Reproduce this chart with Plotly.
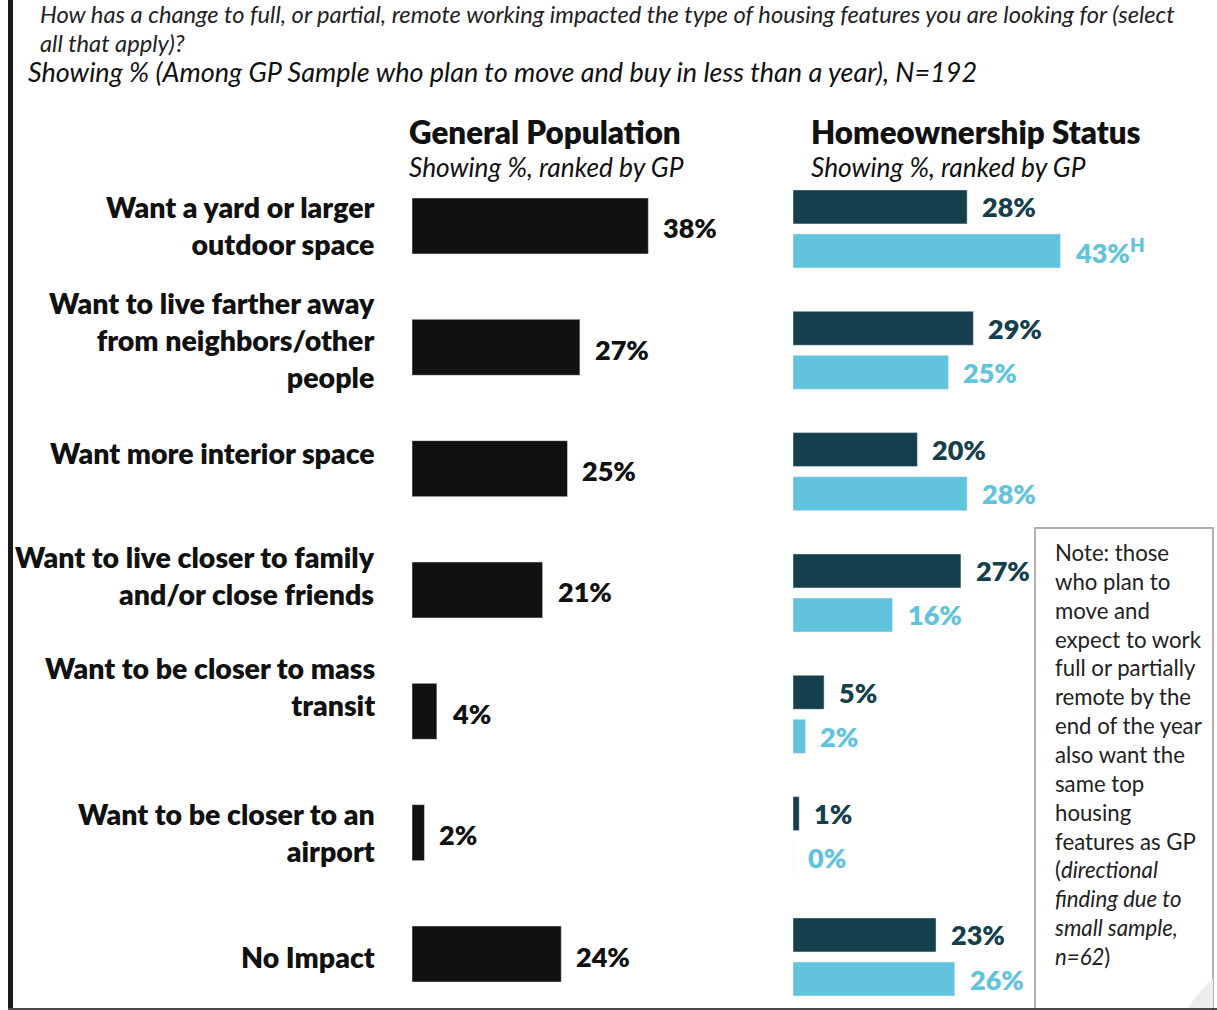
import plotly.graph_objects as go

W, H = 1217, 1010

categories = [
    "Want a yard or larger<br>outdoor space",
    "Want to live farther away<br>from neighbors/other<br>people",
    "Want more interior space",
    "Want to live closer to family<br>and/or close friends",
    "Want to be closer to mass<br>transit",
    "Want to be closer to an<br>airport",
    "No Impact",
]
gp_values = [38, 27, 25, 21, 4, 2, 24]
dark_values = [28, 29, 20, 27, 5, 1, 23]
light_values = [43, 25, 28, 16, 2, 0, 26]
light_suffix = ["<sup>H</sup>", "", "", "", "", "", ""]

# style tweaks (label vertical nudges, px)
label_yshift = [0, 7, 16, 14, 25, 0, -3]

FONT = "Lato, 'Source Sans Pro', sans-serif"
BLACK = "#111111"
DARK = "#153f4c"
LIGHT = "#62c4dc"
HEAVY = 800

def px(x):
    return x / W

def py(y):
    return 1 - y / H

idx = list(range(len(categories)))

fig = go.Figure()

fig.add_trace(go.Bar(
    x=gp_values, y=idx, orientation="h", marker_color=BLACK,
    width=0.4615, xaxis="x", yaxis="y", hoverinfo="skip",
))
fig.add_trace(go.Bar(
    x=dark_values, y=idx, orientation="h", marker_color=DARK,
    width=0.28, offset=-0.297, xaxis="x2", yaxis="y", hoverinfo="skip",
))
fig.add_trace(go.Bar(
    x=light_values, y=idx, orientation="h", marker_color=LIGHT,
    width=0.28, offset=0.066, xaxis="x2", yaxis="y", hoverinfo="skip",
))

annotations = []
for i, (cat, v) in enumerate(zip(categories, gp_values)):
    annotations.append(dict(
        x=px(377), y=i, xref="paper", yref="y", text=cat, showarrow=False,
        xanchor="right", yanchor="middle", align="right", yshift=label_yshift[i],
        font=dict(family=FONT, size=28.5, color=BLACK, weight=HEAVY),
    ))
    annotations.append(dict(
        x=v, y=i, xref="x", yref="y", text=f"{v}%", showarrow=False,
        xanchor="left", yanchor="middle", xshift=13, yshift=-2,
        font=dict(family=FONT, size=27, color=BLACK, weight=HEAVY),
    ))
for i, (d, l, s) in enumerate(zip(dark_values, light_values, light_suffix)):
    annotations.append(dict(
        x=d, y=i - 0.157, xref="x2", yref="y", text=f"{d}%", showarrow=False,
        xanchor="left", yanchor="middle", xshift=13,
        font=dict(family=FONT, size=27, color=DARK, weight=HEAVY),
    ))
    annotations.append(dict(
        x=l, y=i + 0.206, xref="x2", yref="y", text=f"{l}%{s}", showarrow=False,
        xanchor="left", yanchor="middle", xshift=13,
        font=dict(family=FONT, size=27, color=LIGHT, weight=HEAVY),
    ))

# Titles
annotations += [
    dict(x=px(38), y=py(14), xref="paper", yref="paper", showarrow=False,
         xanchor="left", yanchor="middle", align="left",
         text="<i>How has a change to full, or partial, remote working impacted the type of housing features you are looking for (select</i>",
         font=dict(family=FONT, size=23.7, color="#222222")),
    dict(x=px(38), y=py(43), xref="paper", yref="paper", showarrow=False,
         xanchor="left", yanchor="middle", align="left",
         text="<i>all that apply)?</i>",
         font=dict(family=FONT, size=23.7, color="#222222")),
    dict(x=px(26), y=py(71), xref="paper", yref="paper", showarrow=False,
         xanchor="left", yanchor="middle", align="left",
         text="<i>Showing % (Among GP Sample who plan to move and buy in less than a year), N=192</i>",
         font=dict(family=FONT, size=27, color=BLACK)),
    dict(x=px(407), y=py(132), xref="paper", yref="paper", showarrow=False,
         xanchor="left", yanchor="middle", text="General Population",
         font=dict(family=FONT, size=31.3, color=BLACK, weight=HEAVY)),
    dict(x=px(407), y=py(167), xref="paper", yref="paper", showarrow=False,
         xanchor="left", yanchor="middle", text="<i>Showing %, ranked by GP</i>",
         font=dict(family=FONT, size=26.3, color=BLACK)),
    dict(x=px(809), y=py(132), xref="paper", yref="paper", showarrow=False,
         xanchor="left", yanchor="middle", text="Homeownership Status",
         font=dict(family=FONT, size=31.3, color=BLACK, weight=HEAVY)),
    dict(x=px(809), y=py(167), xref="paper", yref="paper", showarrow=False,
         xanchor="left", yanchor="middle", text="<i>Showing %, ranked by GP</i>",
         font=dict(family=FONT, size=26.3, color=BLACK)),
    dict(x=px(1052), y=py(537), xref="paper", yref="paper", showarrow=False,
         xanchor="left", yanchor="top", align="left",
         text=("Note: those<br>who plan to<br>move and<br>expect to work<br>full or partially<br>"
               "remote by the<br>end of the year<br>also want the<br>same top<br>housing<br>"
               "features as GP<br>(<i>directional</i><br><i>finding due to</i><br><i>small sample,</i><br><i>n=62</i>)"),
         font=dict(family=FONT, size=22.2, color="#222222")),
]

shapes = [
    # note box
    dict(type="rect", xref="paper", yref="paper", x0=px(1035), y0=py(528), x1=px(1213), y1=py(1009),
         line=dict(color="#b9b1a9", width=2), fillcolor="rgba(0,0,0,0)", layer="below"),
    # folded corner
    dict(type="path", xref="paper", yref="paper",
         path=f"M {px(1187)} {py(1009)} Q {px(1200)} {py(990)} {px(1213)} {py(978)} L {px(1213)} {py(1009)} Z",
         fillcolor="#ececec", line=dict(width=0)),
    # frame
    dict(type="line", xref="paper", yref="paper", x0=px(10.5), x1=px(10.5), y0=0, y1=1,
         line=dict(color="#1a1a1a", width=5)),
    dict(type="line", xref="paper", yref="paper", x0=px(8), x1=px(1217), y0=py(1009), y1=py(1009),
         line=dict(color="#4a4a4a", width=2)),
    dict(type="line", xref="paper", yref="paper", x0=px(1213), x1=px(1213), y0=0, y1=py(1009),
         line=dict(color="#333333", width=2)),
]

fig.update_layout(
    width=W, height=H, margin=dict(l=0, r=0, t=0, b=0),
    paper_bgcolor="white", plot_bgcolor="white",
    showlegend=False, barmode="overlay",
    xaxis=dict(domain=[px(412), px(785)], range=[0, 59.97], visible=False, fixedrange=True),
    xaxis2=dict(domain=[px(793), px(1166)], range=[0, 59.97], visible=False, fixedrange=True,
                anchor="y"),
    yaxis=dict(domain=[0, py(165.3)], range=[6.4615, -0.5], visible=False, fixedrange=True),
    annotations=annotations, shapes=shapes,
)

fig.write_html("out.html")
